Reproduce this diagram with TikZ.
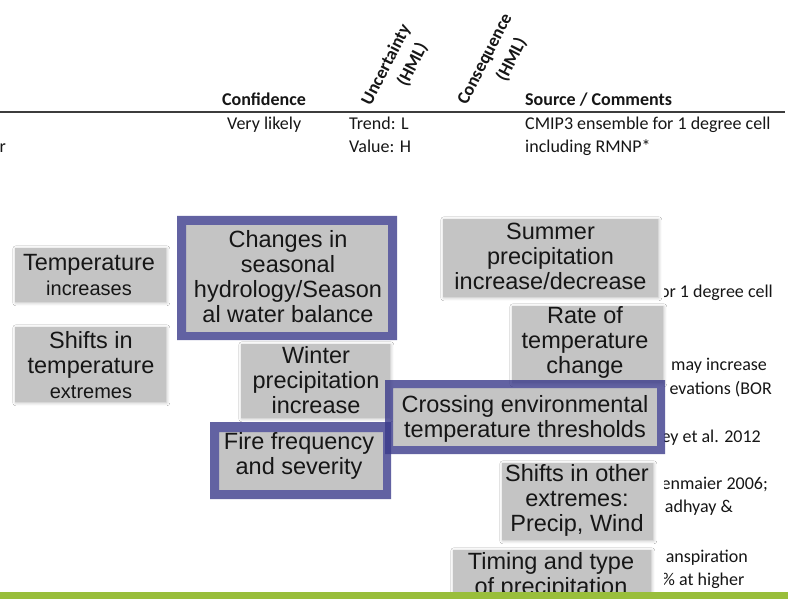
\documentclass[tikz,border=0pt]{standalone}
\usepackage{fontspec}
\setmainfont{Carlito}
\newfontfamily\boxfont{Liberation Sans}
\usetikzlibrary{calc,shadows.blur}
\definecolor{boxgray}{RGB}{196,196,196}
\definecolor{ringblue}{RGB}{59,59,139}
\definecolor{barGreen}{RGB}{153,190,59}
\definecolor{txt}{RGB}{22,22,22}
\definecolor{rulegray}{RGB}{60,60,60}
\begin{document}
\begin{tikzpicture}[x=1pt,y=-1pt,
  gbox/.style={fill=boxgray, inner sep=0pt, outer sep=0pt,
    blur shadow={shadow xshift=0.8pt, shadow yshift=-0.8pt, shadow blur radius=3pt, shadow opacity=28}},
  ibox/.style={fill=boxgray, inner sep=0pt, outer sep=0pt},
  btext/.style={font=\boxfont\fontsize{23.5}{25}\selectfont, align=center, text=txt, inner sep=0pt},
  ttext/.style={font=\fontsize{18}{22}\selectfont, text=txt, inner sep=0pt, anchor=base west},
  htext/.style={font=\bfseries\fontsize{18}{22}\selectfont, text=txt, inner sep=0pt},
  ring/.style={fill=ringblue, fill opacity=0.8, even odd rule}
]
\useasboundingbox (0,0) rectangle (788,599);
\fill[white] (0,0) rectangle (788,599);

% ---- table header ----
\node[htext, anchor=base west] (conf) at (222,106) {Confidence};
\node[htext, anchor=base west] (src) at (525,106) {Source / Comments};
\node[htext, rotate=63] (unc1) at (386.5,65) {Uncertainty};
\node[htext, rotate=63] (unc2) at (412.5,65) {(HML)};
\node[htext, rotate=63] (con1) at (485.5,59.5) {Consequence};
\node[htext, rotate=63] (con2) at (511.5,59.5) {(HML)};
\coordinate (hl) at (0,112);
\coordinate (hr) at (785,112);
\draw[line width=1.5pt, rulegray] (hl) -- (hr);

% ---- table body ----
\node[ttext] (vl) at (227,130) {Very likely};
\node[ttext] (tr) at (349,130) {Trend: L};
\node[ttext] (va) at (349,153) {Value: H};
\node[ttext] (cm) at (525,130) {CMIP3 ensemble for 1 degree cell};
\node[ttext] (rm) at (525,153) {including RMNP*};
\node[ttext] (rr) at (-0.5,153) {r};

\begin{scope}
\clip (664,160) rectangle (788,599);
\node[ttext, anchor=base east] (p1) at (773,298) {for 1 degree cell};
\node[ttext, anchor=base west] (p2) at (671,370) {may increase};
\node[ttext, anchor=base east] (p3) at (772,394) {evations (BOR};
\node[ttext, anchor=base east] (p4) at (761,442) {ey et al. 2012};
\node[ttext, anchor=base east] (p5) at (768,489) {enmaier 2006;};
\node[ttext, anchor=base east] (p6) at (733,512) {adhyay \&};
\node[ttext, anchor=base east] (p7) at (748,562) {anspiration};
\node[ttext, anchor=base west] (p8) at (662,585) {\% at higher};
\end{scope}

% ---- gray boxes ----
\node[gbox, minimum width=151, minimum height=54] (b1) at (90.5,275) {};
\node[btext] (t1) at (89,275.5) {Temperature\\{\fontsize{20}{22}\selectfont increases}};

\node[gbox, minimum width=151, minimum height=75] (b2) at (90.5,364.5) {};
\node[btext] (t2) at (91,365) {Shifts in\\temperature\\{\fontsize{20}{22}\selectfont extremes}};

\node[gbox, minimum width=149, minimum height=74] (b3) at (315.5,381) {};
\node[btext] (t3) at (316,380.5) {Winter\\precipitation\\increase};

\node[gbox, minimum width=215, minimum height=78] (b4) at (550.5,258) {};
\node[btext] (t4) at (550.5,256) {Summer\\precipitation\\increase/decrease};

\node[gbox, minimum width=151, minimum height=77] (b5) at (587.5,344.5) {};
\node[btext] (t5) at (585,342) {Rate of\\temperature\\change};

\node[gbox, minimum width=151, minimum height=77] (b6) at (577.5,501.5) {};
\node[btext] (t6) at (577,500) {Shifts in other\\extremes:\\Precip, Wind};

\node[gbox, minimum width=198, minimum height=60] (b7) at (552,580) {};
\node[btext] (t7) at (551,575.5) {Timing and type\\of precipitation};

% ---- blue framed boxes ----
\node[ibox, minimum width=202, minimum height=107] (c1) at (287,278.5) {};
\fill[ring] ($(c1.north west)+(-9,-9)$) rectangle ($(c1.south east)+(9,8)$) (c1.north west) rectangle (c1.south east);
\node[btext] (u1) at (288,277) {Changes in\\seasonal\\hydrology/Season\\al water balance};

\node[ibox, minimum width=264, minimum height=58] (c2) at (525,417) {};
\fill[ring] ($(c2.north west)+(-8,-8)$) rectangle ($(c2.south east)+(8,8)$) (c2.north west) rectangle (c2.south east);
\node[btext] (u2) at (525,418.5) {Crossing environmental\\temperature thresholds};

\node[ibox, minimum width=164, minimum height=58] (c3) at (301,461) {};
\fill[ring] ($(c3.north west)+(-9,-10)$) rectangle ($(c3.south east)+(8,9)$) (c3.north west) rectangle (c3.south east);
\node[btext] (u3) at (299,455.5) {Fire frequency\\and severity};

% ---- bottom bar ----
\fill[barGreen] (0,592) rectangle (788,599);
\end{tikzpicture}
\end{document}
